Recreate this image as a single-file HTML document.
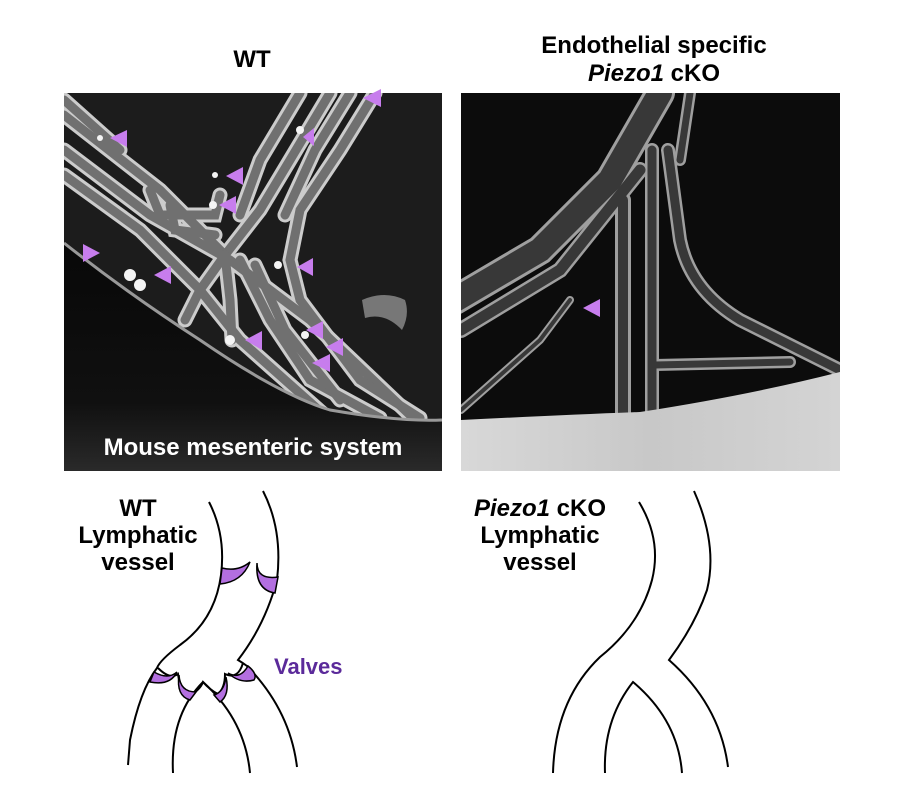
<!DOCTYPE html>
<html><head><meta charset="utf-8"><style>
html,body{margin:0;padding:0;background:#fff;}
body{width:900px;height:793px;overflow:hidden;position:relative;font-family:"Liberation Sans",Arial,sans-serif;}
</style></head><body>
<svg width="900" height="793" viewBox="0 0 900 793" xmlns="http://www.w3.org/2000/svg" style="position:absolute;left:0;top:0">
<defs>
<clipPath id="cl"><rect x="64" y="93" width="378" height="378"/></clipPath>
<clipPath id="cr"><rect x="461" y="93" width="379" height="378"/></clipPath>
<linearGradient id="tis" x1="0" y1="0" x2="0" y2="1"><stop offset="0" stop-color="#080808"/><stop offset="0.7" stop-color="#101010"/><stop offset="1" stop-color="#2a2a2a"/></linearGradient>
<linearGradient id="band" x1="0" y1="0" x2="1" y2="0"><stop offset="0" stop-color="#d8d8d8"/><stop offset="0.5" stop-color="#c8c8c8"/><stop offset="1" stop-color="#d4d4d4"/></linearGradient>
</defs>

<!-- Left image -->
<g clip-path="url(#cl)">
<rect x="64" y="93" width="378" height="378" fill="#1c1c1c"/>
<g fill="none" stroke-linecap="round">
<g stroke="#e0e0e0" stroke-width="15" opacity="0.9">
<path d="M64,115 L160,190 L225,255"/>
<path d="M64,150 L150,215 L230,260 L310,320 L410,415"/>
<path d="M64,175 L140,230 L200,290 L240,340 L330,420"/>
<path d="M330,93 L290,160 L260,210 L225,255"/>
<path d="M300,93 L260,160 L240,215"/>
<path d="M375,93 L340,150 L300,210 L290,260 L300,300 L360,380 L420,418"/>
<path d="M225,255 L200,290 L185,320"/>
<path d="M225,255 L230,300 L232,340"/>
<path d="M240,260 L270,320 L310,380 L380,418"/>
<path d="M150,190 L160,215 L215,215 L220,195"/>
<path d="M170,205 L175,230 L215,235"/>
<path d="M64,100 L120,150"/>
<path d="M350,93 L315,150 L285,215"/>
<path d="M255,265 L285,330 L340,400"/>
</g>
<g stroke="#707070" stroke-width="9">
<path d="M64,115 L160,190 L225,255"/>
<path d="M64,150 L150,215 L230,260 L310,320 L410,415"/>
<path d="M64,175 L140,230 L200,290 L240,340 L330,420"/>
<path d="M330,93 L290,160 L260,210 L225,255"/>
<path d="M300,93 L260,160 L240,215"/>
<path d="M375,93 L340,150 L300,210 L290,260 L300,300 L360,380 L420,418"/>
<path d="M225,255 L200,290 L185,320"/>
<path d="M225,255 L230,300 L232,340"/>
<path d="M240,260 L270,320 L310,380 L380,418"/>
<path d="M150,190 L160,215 L215,215 L220,195"/>
<path d="M170,205 L175,230 L215,235"/>
<path d="M64,100 L120,150"/>
<path d="M350,93 L315,150 L285,215"/>
<path d="M255,265 L285,330 L340,400"/>
</g>
</g>
<g fill="#f4f4f4">
<circle cx="130" cy="275" r="6"/><circle cx="140" cy="285" r="6"/><circle cx="230" cy="340" r="5"/><circle cx="305" cy="335" r="4"/><circle cx="300" cy="130" r="4"/><circle cx="213" cy="205" r="4"/><circle cx="215" cy="175" r="3"/><circle cx="278" cy="265" r="4"/><circle cx="100" cy="138" r="3"/>
</g>
<path d="M362,300 Q385,290 405,300 Q410,315 402,330 Q385,312 365,318 Z" fill="#777"/>
<path d="M64,243 Q130,295 200,340 Q280,395 330,410 Q400,422 442,420 L442,471 L64,471 Z" fill="url(#tis)"/>
<path d="M64,243 Q130,295 200,340 Q280,395 330,410 Q400,422 442,420" fill="none" stroke="#999" stroke-width="3"/>
</g>
<text x="253" y="455" text-anchor="middle" font-family="Liberation Sans, Arial, sans-serif" font-weight="bold" font-size="24" fill="#fff">Mouse mesenteric system</text>

<!-- Left arrowheads -->
<g fill="#c77ded">
<polygon points="110,138 127,130 127,147"/>
<polygon points="303,137 314,128 314,146"/>
<polygon points="226,176 243,167 243,185"/>
<polygon points="219,205 236,196 236,214"/>
<polygon points="100,253 83,244 83,262"/>
<polygon points="154,275 171,266 171,284"/>
<polygon points="297,267 313,258 313,276"/>
<polygon points="306,330 323,321 323,339"/>
<polygon points="245,340 262,331 262,350"/>
<polygon points="326,347 343,338 343,356"/>
<polygon points="312,363 330,354 330,372"/>
<polygon points="363,98 381,89 381,107"/>
</g>

<!-- Right image -->
<g clip-path="url(#cr)">
<rect x="461" y="93" width="379" height="378" fill="#0c0c0c"/>
<g fill="none" stroke-linecap="round">
<g stroke="#b0b0b0" opacity="0.9">
<path d="M455,300 L540,250 L610,180 L660,93" stroke-width="30"/>
<path d="M461,330 L560,270 L640,170" stroke-width="16"/>
<path d="M623,200 L623,425" stroke-width="16"/>
<path d="M652,150 L652,420" stroke-width="14"/>
<path d="M668,150 L680,240 Q690,290 740,320 L840,370" stroke-width="14"/>
<path d="M655,365 L790,362" stroke-width="12"/>
<path d="M461,410 L540,340 L570,300" stroke-width="8"/>
<path d="M690,93 L680,160" stroke-width="12"/>
</g>
<g stroke="#383838">
<path d="M455,300 L540,250 L610,180 L660,93" stroke-width="24"/>
<path d="M461,330 L560,270 L640,170" stroke-width="11"/>
<path d="M623,200 L623,425" stroke-width="10"/>
<path d="M652,150 L652,420" stroke-width="9"/>
<path d="M668,150 L680,240 Q690,290 740,320 L840,370" stroke-width="9"/>
<path d="M655,365 L790,362" stroke-width="7"/>
<path d="M461,410 L540,340 L570,300" stroke-width="4"/>
<path d="M690,93 L680,160" stroke-width="7"/>
</g>
</g>
<path d="M461,420 Q560,415 640,412 Q750,395 840,372 L840,471 L461,471 Z" fill="url(#band)"/>
</g>
<polygon points="583,308 600,299 600,317" fill="#c77ded"/>

<!-- Titles -->
<g font-family="Liberation Sans, Arial, sans-serif" font-weight="bold" font-size="24" fill="#000" text-anchor="middle">
<text x="252" y="67">WT</text>
<text x="654" y="53">Endothelial specific</text>
<text x="654" y="81"><tspan font-style="italic">Piezo1</tspan> cKO</text>
</g>
<g font-family="Liberation Sans, Arial, sans-serif" font-weight="bold" font-size="24" fill="#000" text-anchor="middle">
<text x="138" y="516">WT</text>
<text x="138" y="543">Lymphatic</text>
<text x="138" y="570">vessel</text>
<text x="540" y="516"><tspan font-style="italic">Piezo1</tspan> cKO</text>
<text x="540" y="543">Lymphatic</text>
<text x="540" y="570">vessel</text>
</g>
<text x="274" y="674" font-family="Liberation Sans, Arial, sans-serif" font-weight="bold" font-size="22" fill="#5b2a9a">Valves</text>

<!-- WT diagram -->
<g fill="none" stroke="#000" stroke-width="2">
<path d="M209,502 Q226,535 221,575 Q215,620 180,645 Q160,660 157,668 Q140,690 130,740 L128,765"/>
<path d="M263,491 Q283,530 277,580 Q265,625 238,660 Q243,663 247,666 Q290,710 297,767"/>
<path d="M173,773 Q170,715 203,682 Q245,720 250,773"/>
<path d="M158,668 Q170,680 178,674 Q180,690 190,695 Q200,690 203,682 Q210,690 218,694 Q225,688 225,674 Q238,680 243,663"/>
</g>
<g fill="#b36fe0" stroke="#000" stroke-width="1.5">
<path d="M222,568 Q238,572 250,562 Q242,582 220,584 Z"/>
<path d="M257,563 Q257,580 278,577 L275,593 Q255,590 257,563 Z"/>
<path d="M154,672 Q168,680 177,672 Q170,686 150,682 Z"/>
<path d="M179,675 Q180,692 196,692 L190,700 Q176,696 179,675 Z"/>
<path d="M226,677 Q224,692 214,695 L220,702 Q230,695 226,677 Z"/>
<path d="M228,673 Q240,680 248,666 Q258,674 254,680 Q240,684 228,673 Z"/>
</g>

<!-- cKO diagram -->
<g fill="none" stroke="#000" stroke-width="2">
<path d="M639,502 Q662,540 652,580 Q640,625 600,657 Q555,700 553,773"/>
<path d="M694,491 Q718,545 707,590 Q695,625 669,660 Q720,705 728,767"/>
<path d="M605,773 Q603,720 633,682 Q678,720 682,773"/>
</g>
</svg>
</body></html>
